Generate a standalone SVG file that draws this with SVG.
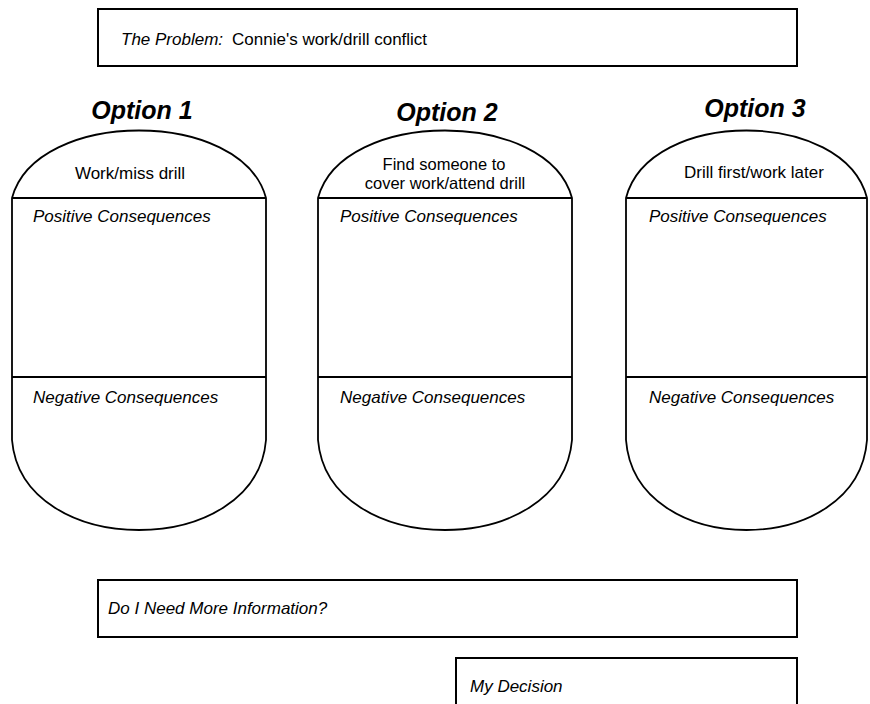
<svg xmlns="http://www.w3.org/2000/svg" width="870" height="704" viewBox="0 0 870 704">
<style>
text{font-family:"Liberation Sans",Arial,sans-serif;fill:#000}
.t{font-size:17px}
.t2{font-size:16.5px}
.i{font-size:17px;font-style:italic}
.h{font-size:25px;font-weight:bold;font-style:italic}
.box{fill:#fff;stroke:#000;stroke-width:2}
.sh{fill:#fff;stroke:#000;stroke-width:1.8}
.ln{stroke:#000;stroke-width:2}
</style>
<rect width="870" height="704" fill="#fff"/>
<g id="problem">
<rect class="box" x="98" y="9" width="699" height="57"/>
<text x="121" y="45" class="i">The Problem:<tspan dx="9" font-style="normal">Connie's work/drill conflict</tspan></text>
</g>
<g id="option1">
<text x="142" y="119" class="h" text-anchor="middle">Option 1</text>
<path class="sh" d="M12,198 C36,108 242,108 266,198 L266,440 C256,560 22,560 12,440 Z"/>
<line class="ln" x1="12" y1="198" x2="266" y2="198"/>
<line class="ln" x1="12" y1="377" x2="266" y2="377"/>
<text x="130" y="179" class="t" text-anchor="middle">Work/miss drill</text>
<text x="33" y="222" class="i">Positive Consequences</text>
<text x="33" y="403" class="i">Negative Consequences</text>
</g>
<g id="option2">
<text x="447" y="121" class="h" text-anchor="middle">Option 2</text>
<path class="sh" d="M318,198 C342,108 548,108 572,198 L572,440 C562,560 328,560 318,440 Z"/>
<line class="ln" x1="318" y1="198" x2="572" y2="198"/>
<line class="ln" x1="318" y1="377" x2="572" y2="377"/>
<text x="444" y="170" class="t2" text-anchor="middle">Find someone to</text>
<text x="445" y="189" class="t2" text-anchor="middle">cover work/attend drill</text>
<text x="340" y="222" class="i">Positive Consequences</text>
<text x="340" y="403" class="i">Negative Consequences</text>
</g>
<g id="option3">
<text x="755" y="117" class="h" text-anchor="middle">Option 3</text>
<path class="sh" d="M626,198 C649,108 844,108 867,198 L867,440 C858,560 635,560 626,440 Z"/>
<line class="ln" x1="626" y1="198" x2="867" y2="198"/>
<line class="ln" x1="626" y1="377" x2="867" y2="377"/>
<text x="754" y="178" class="t" text-anchor="middle">Drill first/work later</text>
<text x="649" y="222" class="i">Positive Consequences</text>
<text x="649" y="403" class="i">Negative Consequences</text>
</g>
<g id="info">
<rect class="box" x="98" y="580" width="699" height="57"/>
<text x="108" y="614" class="i">Do I Need More Information?</text>
</g>
<g id="decision">
<rect class="box" x="456" y="658" width="341" height="60"/>
<text x="470" y="692" class="i">My Decision</text>
</g>
<g id="connectors"/>
</svg>
